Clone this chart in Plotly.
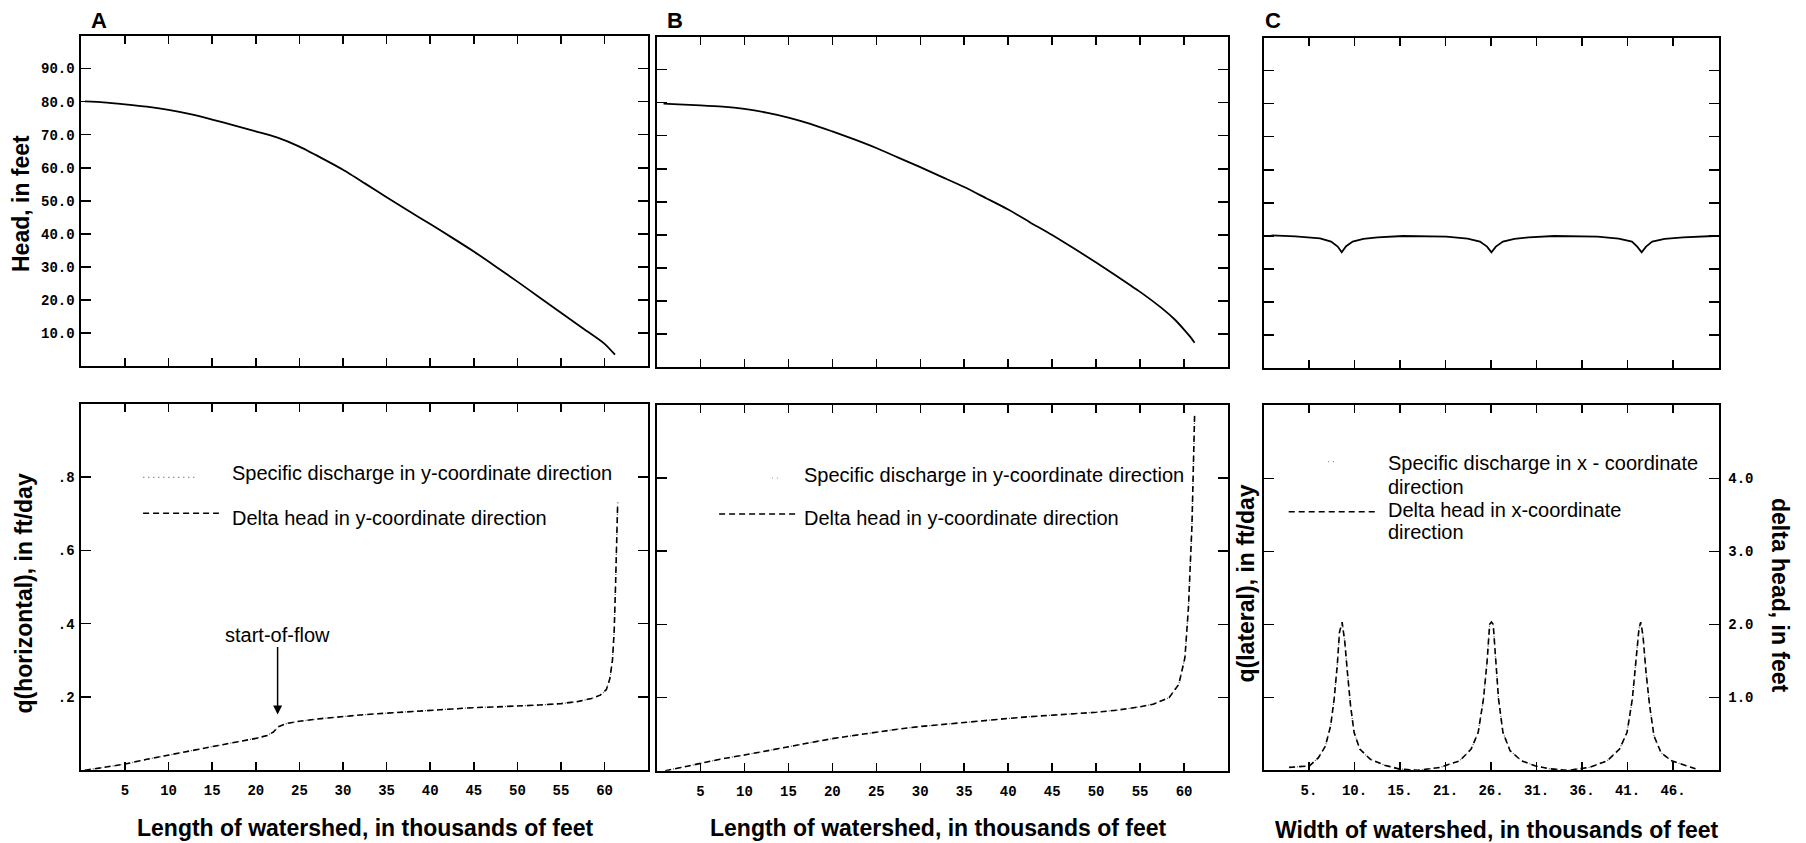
import plotly.graph_objects as go

W, H = 1806, 843

# ---------------- data ----------------
# Panel A (top): head along watershed length
head_a_x = [0.4, 2.5, 5, 7.5, 10, 12.5, 15, 17.5, 20, 22.5, 25, 27.5, 30, 32.5, 35,
            37.5, 40, 42.5, 45, 47.5, 50, 52.5, 55, 57.5, 60, 61.2]
head_a_y = [80.1, 79.8, 79.2, 78.5, 77.5, 76.2, 74.6, 72.8, 71.0, 69.1, 66.4, 63.0, 59.4,
            55.3, 51.1, 47.0, 43.0, 38.9, 34.7, 30.2, 25.6, 20.9, 16.2, 11.5, 6.8, 3.5]

# Panel B (top): head along watershed length
head_b_x = [0.8, 2.5, 5, 7.5, 10, 12.5, 15, 17.5, 20, 22.5, 25, 27.5, 30, 32.5, 35, 37.5,
            40, 42.5, 45, 47.5, 50, 52.5, 55, 57.5, 59, 60, 60.8, 61.2]
head_b_y = [79.7, 79.5, 79.2, 78.8, 78.1, 77.0, 75.5, 73.6, 71.3, 68.9, 66.3, 63.4, 60.5,
            57.5, 54.5, 51.1, 47.7, 43.8, 40.0, 35.9, 31.7, 27.3, 22.8, 17.8, 14.3, 11.4,
            8.9, 7.4]

# Panel C (top): head across watershed width
head_c_x = [0.9, 3.6, 6.4, 7.65, 8.4, 8.85, 9.35, 10.1, 11.3, 12.9, 15.8, 17.8, 20.7,
            23.1, 24.5, 25.3, 25.8, 26.3, 27.1, 28.4, 30.0, 32.9, 34.9, 37.8, 40.2, 41.7,
            42.3, 42.8, 43.3, 44.0, 45.4, 47.5, 51.0]
head_c_y = [40.2, 39.9, 39.3, 38.3, 36.8, 35.1, 36.9, 38.3, 39.1, 39.6, 40.0, 40.0, 39.8,
            39.2, 38.3, 36.8, 35.1, 36.8, 38.3, 39.1, 39.6, 40.0, 40.0, 39.8, 39.2, 38.3,
            36.8, 35.1, 36.8, 38.3, 39.1, 39.6, 40.0]

# Panel A (bottom): delta head / specific discharge in y-direction
dh_a_x = [0.4, 2.5, 5, 7.5, 10, 12.5, 15, 17.5, 20, 21.3, 22.0, 22.6, 23.6, 25, 27.5, 30,
          32.5, 35, 37.5, 40, 42.5, 45, 47.5, 50, 52.5, 55, 57, 58.5, 59.5, 60.2, 60.6,
          60.9, 61.1, 61.25, 61.4, 61.5]
dh_a_y = [0.0, 0.008, 0.017, 0.030, 0.042, 0.053, 0.065, 0.076, 0.087, 0.095, 0.104,
          0.119, 0.128, 0.134, 0.141, 0.147, 0.152, 0.156, 0.160, 0.163, 0.167, 0.171,
          0.173, 0.175, 0.178, 0.182, 0.188, 0.196, 0.205, 0.22, 0.25, 0.30, 0.38, 0.50,
          0.63, 0.73]

# Panel B (bottom)
dh_b_x = [1.0, 2.5, 5, 7.5, 10, 12.5, 15, 17.5, 20, 22.5, 25, 27.5, 30, 32.5, 35, 37.5,
          40, 42.5, 45, 47.5, 50, 52.5, 55, 56.5, 58.3, 59.4, 60.1, 60.5, 60.9, 61.2]
dh_b_y = [0.0, 0.008, 0.020, 0.033, 0.043, 0.055, 0.066, 0.077, 0.088, 0.097, 0.106,
          0.114, 0.121, 0.127, 0.133, 0.138, 0.143, 0.148, 0.153, 0.156, 0.160, 0.166,
          0.175, 0.182, 0.200, 0.236, 0.309, 0.445, 0.67, 0.97]

# Panel C (bottom): delta head in x-direction (right axis, feet)
dh_c_x = [2.9, 5.2, 6.2, 7.0, 7.6, 8.0, 8.35, 8.6, 8.9, 9.2, 9.5, 9.85, 10.25, 10.9, 12.1,
          13.7, 15.3, 17.5, 20.0, 22.2, 23.5, 24.3, 24.9, 25.3, 25.6, 25.8, 26.0, 26.3,
          26.6, 27.1, 27.9, 29.2, 30.8, 32.4, 34.5, 36.9, 38.9, 40.3, 41.15, 41.75, 42.15,
          42.5, 42.7, 42.95, 43.3, 43.7, 44.2, 45.0, 46.2, 47.9, 48.9]
dh_c_y = [0.04, 0.06, 0.17, 0.33, 0.61, 0.98, 1.44, 1.89, 2.03, 1.76, 1.34, 0.89, 0.52,
          0.29, 0.15, 0.07, 0.02, 0.0, 0.04, 0.13, 0.29, 0.52, 0.98, 1.48, 2.0, 2.03, 2.0,
          1.48, 0.98, 0.52, 0.27, 0.13, 0.06, 0.02, 0.0, 0.04, 0.13, 0.29, 0.52, 0.98,
          1.48, 1.94, 2.03, 1.85, 1.34, 0.89, 0.47, 0.24, 0.13, 0.06, 0.02]

# ticks
len_ticks = [5, 10, 15, 20, 25, 30, 35, 40, 45, 50, 55, 60]
len_ticktext = ["5", "10", "15", "20", "25", "30", "35", "40", "45", "50", "55", "60"]
wid_ticks = [5.15, 10.3, 15.45, 20.6, 25.75, 30.9, 36.05, 41.2, 46.35]
wid_ticktext = ["5.", "10.", "15.", "21.", "26.", "31.", "36.", "41.", "46."]
head_ticks = [10, 20, 30, 40, 50, 60, 70, 80, 90]
head_ticktext = ["10.0", "20.0", "30.0", "40.0", "50.0", "60.0", "70.0", "80.0", "90.0"]
q_ticks = [0.2, 0.4, 0.6, 0.8]
q_ticktext = [".2", ".4", ".6", ".8"]
dh_ticks = [1, 2, 3, 4]
dh_ticktext = ["1.0", "2.0", "3.0", "4.0"]

# ---------------- layout helpers ----------------
def fx(px):
    return px / W


def fy(py):
    return 1 - py / H


TICKFONT = dict(family="Liberation Mono, DejaVu Sans Mono, monospace", size=14,
                color="black", weight="bold")
TXT = "Liberation Sans, Arial, Helvetica, sans-serif"


def xax(x0, x1, rng, tv, tt, labels, anchor):
    return dict(domain=[fx(x0), fx(x1)], range=rng, anchor=anchor, showline=True,
                linewidth=2, linecolor="black", mirror="ticks", ticks="inside",
                ticklen=8, tickwidth=1.5, tickcolor="black", tickvals=tv, ticktext=tt,
                showticklabels=labels, tickfont=TICKFONT, showgrid=False,
                zeroline=False, fixedrange=True, ticklabelstandoff=6)


def yax(y0, y1, rng, tv, tt, labels, anchor):
    return dict(domain=[fy(y1), fy(y0)], range=rng, anchor=anchor, showline=True,
                linewidth=2, linecolor="black", mirror="ticks", ticks="inside",
                ticklen=10, tickwidth=1.5, tickcolor="black", tickvals=tv, ticktext=tt,
                showticklabels=labels, tickfont=TICKFONT, showgrid=False,
                zeroline=False, fixedrange=True, ticklabelstandoff=2)


PA = (81.4, 648.2)
PB = (656.5, 1228.0)
PC = (1263.5, 1718.5)
TOP = (35.5, 366.3)
BOT = (403.8, 770.3)

fig = go.Figure()

solid = dict(color="black", width=1.8)
dashed = dict(color="black", width=1.6, dash="6px,4px")
dotted = dict(color="#555555", width=1.2, dash="1px,3px")

fig.add_trace(go.Scatter(x=head_a_x, y=head_a_y, mode="lines",
                         line=dict(solid, shape="spline", smoothing=0.6),
                         xaxis="x", yaxis="y"))
fig.add_trace(go.Scatter(x=head_b_x, y=head_b_y, mode="lines",
                         line=dict(solid, shape="spline", smoothing=0.6),
                         xaxis="x2", yaxis="y2"))
fig.add_trace(go.Scatter(x=head_c_x, y=head_c_y, mode="lines", line=solid,
                         xaxis="x3", yaxis="y3"))

fig.add_trace(go.Scatter(x=dh_a_x, y=dh_a_y, mode="lines", line=dotted,
                         name="Specific discharge in y-coordinate direction",
                         xaxis="x4", yaxis="y4"))
fig.add_trace(go.Scatter(x=dh_a_x, y=dh_a_y, mode="lines", line=dashed,
                         name="Delta head in y-coordinate direction",
                         xaxis="x4", yaxis="y4"))
fig.add_trace(go.Scatter(x=dh_b_x, y=dh_b_y, mode="lines", line=dotted,
                         xaxis="x5", yaxis="y5"))
fig.add_trace(go.Scatter(x=dh_b_x, y=dh_b_y, mode="lines", line=dashed,
                         xaxis="x5", yaxis="y5"))
fig.add_trace(go.Scatter(x=dh_c_x, y=dh_c_y, mode="lines", line=dotted,
                         xaxis="x6", yaxis="y6"))
fig.add_trace(go.Scatter(x=dh_c_x, y=dh_c_y, mode="lines", line=dashed,
                         xaxis="x6", yaxis="y6"))

y6 = yax(BOT[0] + 1.5, BOT[1], [0, 5], dh_ticks, dh_ticktext, True, "x6")
y6.update(side="right", ticklabelstandoff=5)

layout = dict(
    width=W, height=H, autosize=False, showlegend=False,
    margin=dict(l=0, r=0, t=0, b=0, pad=0),
    paper_bgcolor="white", plot_bgcolor="white", hovermode=False,
    xaxis=xax(*PA, [0, 65], len_ticks, len_ticktext, False, "y"),
    yaxis=yax(*TOP, [0, 100], head_ticks, head_ticktext, True, "x"),
    xaxis2=xax(*PB, [0, 65], len_ticks, len_ticktext, False, "y2"),
    yaxis2=yax(TOP[0] + 1, TOP[1] + 1, [0, 100], head_ticks, head_ticktext, False, "x2"),
    xaxis3=xax(*PC, [0, 51.5], wid_ticks, wid_ticktext, False, "y3"),
    yaxis3=yax(TOP[0] + 2, TOP[1] + 2, [0, 100], head_ticks, head_ticktext, False, "x3"),
    xaxis4=xax(*PA, [0, 65], len_ticks, len_ticktext, True, "y4"),
    yaxis4=yax(*BOT, [0, 1.0], q_ticks, q_ticktext, True, "x4"),
    xaxis5=xax(*PB, [0, 65], len_ticks, len_ticktext, True, "y5"),
    yaxis5=yax(BOT[0] + 1, BOT[1] + 0.5, [0, 1.0], q_ticks, q_ticktext, False, "x5"),
    xaxis6=xax(*PC, [0, 51.5], wid_ticks, wid_ticktext, True, "y6"),
    yaxis6=y6,
)
fig.update_layout(**layout)

# ---------------- text ----------------
def ann(text, x, y, size=20, bold=False, angle=0, xanchor="center", yanchor="middle"):
    fig.add_annotation(text=text, x=fx(x), y=fy(y), xref="paper", yref="paper",
                       showarrow=False, textangle=angle, xanchor=xanchor,
                       yanchor=yanchor,
                       font=dict(family=TXT, size=size, color="black",
                                 weight="bold" if bold else "normal"))


ann("A", 99.3, 20, size=22, bold=True)
ann("B", 674.8, 20, size=22, bold=True)
ann("C", 1272.5, 20, size=22, bold=True)

ann("Head, in feet", 21.5, 203.5, size=23, bold=True, angle=-90)
ann("q(horizontal), in ft/day", 23, 593.5, size=23, bold=True, angle=-90)
ann("q(lateral), in ft/day", 1245, 583.5, size=23, bold=True, angle=-90)
ann("delta head, in feet", 1780, 595, size=23, bold=True, angle=90)

ann("Length of watershed, in thousands of feet", 365.9, 828.3, size=23, bold=True)
ann("Length of watershed, in thousands of feet", 938.5, 828.3, size=23, bold=True)
ann("Width of watershed, in thousands of feet", 1497, 830, size=23, bold=True)

ann("Specific discharge in y-coordinate direction", 230, 473.3, xanchor="left")
ann("Delta head in y-coordinate direction", 230, 517.7, xanchor="left")
ann("Specific discharge in y-coordinate direction", 802, 475, xanchor="left")
ann("Delta head in y-coordinate direction", 802, 518.3, xanchor="left")
ann("Specific discharge in x - coordinate", 1386, 463.3, xanchor="left")
ann("direction", 1386, 487.3, xanchor="left")
ann("Delta head in x-coordinate", 1386, 510, xanchor="left")
ann("direction", 1386, 531.7, xanchor="left")

# start-of-flow arrow (points at the curve in panel A bottom)
fig.add_annotation(text="start-of-flow", x=22.5, y=0.152, xref="x4", yref="y4",
                   showarrow=True, ax=0, ay=-80, arrowhead=2, arrowsize=1.2,
                   arrowwidth=1.5, arrowcolor="black", standoff=0,
                   font=dict(family=TXT, size=20, color="black"))

# legend samples
def sample(x0, x1, y, dash, color="black", width=1.5):
    fig.add_shape(type="line", xref="paper", yref="paper", x0=fx(x0), x1=fx(x1),
                  y0=fy(y), y1=fy(y), line=dict(color=color, width=width, dash=dash))


sample(143.3, 196.7, 477.3, "1px,4px", color="#666666", width=1.2)
sample(143.1, 218.9, 513.3, "6px,4px")
sample(772, 778, 478, "1px,4px", color="#999999", width=1.2)
sample(719.1, 798.2, 514, "6px,4px")
sample(1328, 1337, 461.7, "1px,4px", color="#999999", width=1.2)
sample(1288.7, 1376.7, 511.7, "6px,4px")

fig.write_html(
    "out.html",
    config={"displayModeBar": False, "staticPlot": True},
    post_script="document.body.style.margin='0px';document.body.style.padding='0px';"
                "document.body.style.overflow='hidden';",
)
